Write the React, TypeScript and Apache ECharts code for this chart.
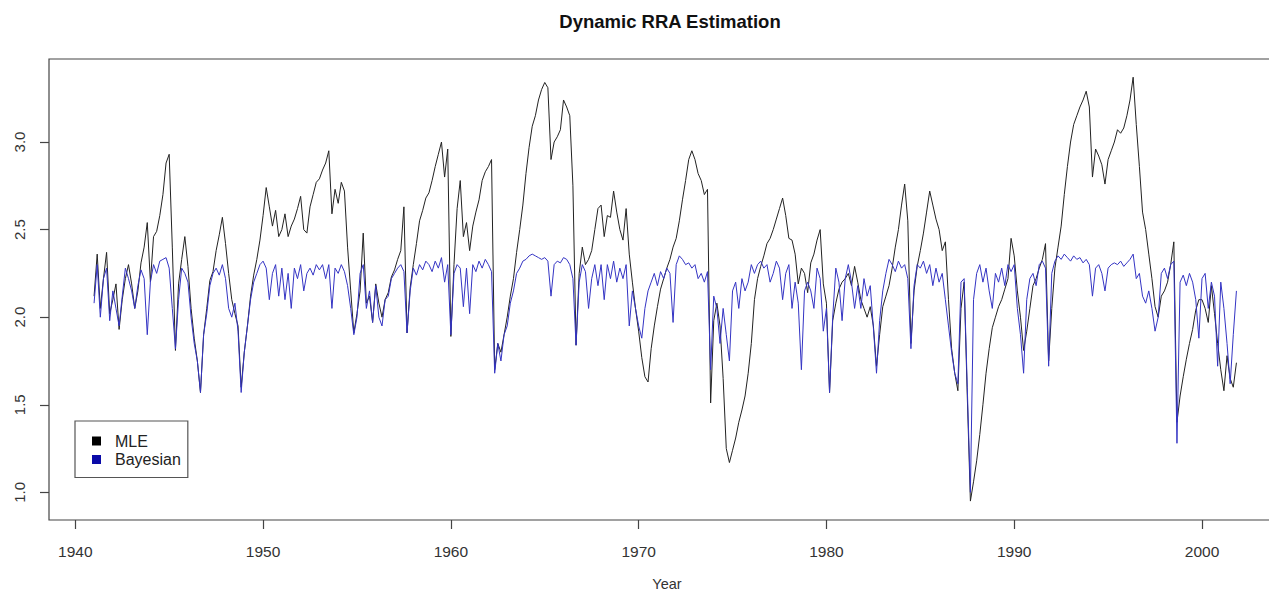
import React, { useEffect, useRef } from "react";
import * as echarts from "echarts";

// Bi-monthly estimates of relative risk aversion, Jan 1941 – Nov 2001 (six values per year)
const startYear = 1941;
const stepsPerYear = 6;

const mleValues: number[] = [
  2.12, 2.36, 2.05, 2.22, 2.37, 2.02, // 1941
  2.10, 2.19, 1.93, 2.10, 2.22, 2.30, // 1942
  2.19, 2.05, 2.15, 2.31, 2.40, 2.54, // 1943
  2.20, 2.46, 2.49, 2.58, 2.70, 2.88, // 1944
  2.93, 2.40, 1.81, 2.19, 2.33, 2.46, // 1945
  2.29, 2.05, 1.88, 1.75, 1.57, 1.90, // 1946
  2.05, 2.21, 2.26, 2.38, 2.47, 2.57, // 1947
  2.42, 2.25, 2.10, 2.02, 1.95, 1.60, // 1948
  1.80, 1.95, 2.12, 2.24, 2.33, 2.44, // 1949
  2.58, 2.74, 2.63, 2.52, 2.61, 2.46, // 1950
  2.50, 2.59, 2.46, 2.52, 2.56, 2.62, // 1951
  2.69, 2.50, 2.48, 2.63, 2.70, 2.77, // 1952
  2.79, 2.84, 2.88, 2.95, 2.59, 2.73, // 1953
  2.65, 2.77, 2.72, 2.40, 2.15, 1.91, // 1954
  2.02, 2.15, 2.48, 2.08, 2.12, 1.97, // 1955
  2.19, 2.08, 2.00, 2.10, 2.14, 2.23, // 1956
  2.27, 2.33, 2.38, 2.63, 1.91, 2.17, // 1957
  2.30, 2.42, 2.55, 2.61, 2.68, 2.71, // 1958
  2.78, 2.86, 2.93, 3.00, 2.80, 2.96, // 1959
  1.89, 2.30, 2.62, 2.78, 2.46, 2.54, // 1960
  2.38, 2.52, 2.60, 2.67, 2.78, 2.83, // 1961
  2.86, 2.90, 1.70, 1.85, 1.80, 1.90, // 1962
  2.00, 2.12, 2.22, 2.37, 2.50, 2.64, // 1963
  2.82, 2.97, 3.09, 3.15, 3.24, 3.30, // 1964
  3.34, 3.31, 2.90, 3.00, 3.03, 3.07, // 1965
  3.24, 3.20, 3.15, 2.75, 1.84, 2.25, // 1966
  2.40, 2.30, 2.33, 2.38, 2.50, 2.62, // 1967
  2.64, 2.46, 2.58, 2.57, 2.72, 2.60, // 1968
  2.50, 2.44, 2.62, 2.36, 2.20, 2.05, // 1969
  1.92, 1.77, 1.66, 1.63, 1.82, 1.95, // 1970
  2.06, 2.16, 2.22, 2.28, 2.33, 2.40, // 1971
  2.45, 2.55, 2.67, 2.78, 2.90, 2.95, // 1972
  2.90, 2.82, 2.78, 2.70, 2.73, 1.51, // 1973
  1.98, 2.08, 1.95, 1.65, 1.25, 1.17, // 1974
  1.24, 1.31, 1.40, 1.47, 1.55, 1.68, // 1975
  1.85, 2.10, 2.22, 2.29, 2.35, 2.42, // 1976
  2.45, 2.50, 2.56, 2.62, 2.68, 2.58, // 1977
  2.45, 2.44, 2.36, 2.19, 2.28, 2.25, // 1978
  2.14, 2.31, 2.36, 2.44, 2.50, 2.19, // 1979
  2.08, 1.57, 1.98, 2.08, 2.16, 2.20, // 1980
  2.22, 2.25, 2.18, 2.29, 2.20, 2.10, // 1981
  2.05, 2.00, 2.06, 1.95, 1.72, 1.90, // 1982
  2.06, 2.12, 2.18, 2.28, 2.40, 2.50, // 1983
  2.64, 2.76, 2.55, 1.85, 2.15, 2.29, // 1984
  2.38, 2.48, 2.60, 2.72, 2.64, 2.56, // 1985
  2.50, 2.38, 2.43, 2.10, 1.82, 1.68, // 1986
  1.58, 2.05, 2.20, 1.55, 0.95, 1.06, // 1987
  1.18, 1.33, 1.50, 1.68, 1.82, 1.94, // 1988
  2.00, 2.06, 2.10, 2.16, 2.22, 2.45, // 1989
  2.35, 2.15, 2.00, 1.81, 1.92, 2.05, // 1990
  2.18, 2.22, 2.28, 2.33, 2.42, 1.75, // 1991
  2.05, 2.28, 2.40, 2.52, 2.70, 2.86, // 1992
  3.00, 3.10, 3.15, 3.20, 3.24, 3.29, // 1993
  3.20, 2.80, 2.96, 2.92, 2.87, 2.76, // 1994
  2.90, 2.95, 3.00, 3.07, 3.05, 3.08, // 1995
  3.15, 3.24, 3.37, 3.10, 2.86, 2.60, // 1996
  2.50, 2.36, 2.22, 2.06, 2.00, 2.12, // 1997
  2.15, 2.20, 2.30, 2.43, 1.40, 1.55, // 1998
  1.66, 1.76, 1.85, 1.93, 2.04, 2.10, // 1999
  2.10, 2.05, 1.97, 2.18, 2.02, 1.85, // 2000
  1.70, 1.58, 1.78, 1.65, 1.60, 1.74, // 2001
];

const bayesValues: number[] = [
  2.08, 2.30, 2.00, 2.22, 2.28, 1.98, // 1941
  2.15, 2.05, 1.95, 2.12, 2.28, 2.22, // 1942
  2.15, 2.05, 2.18, 2.27, 2.22, 1.90, // 1943
  2.20, 2.30, 2.25, 2.32, 2.33, 2.34, // 1944
  2.28, 2.05, 1.82, 2.10, 2.28, 2.25, // 1945
  2.20, 2.00, 1.85, 1.75, 1.57, 1.90, // 1946
  2.02, 2.18, 2.25, 2.28, 2.24, 2.30, // 1947
  2.22, 2.05, 2.00, 2.08, 1.92, 1.57, // 1948
  1.80, 1.95, 2.10, 2.20, 2.25, 2.30, // 1949
  2.32, 2.28, 2.10, 2.25, 2.30, 2.12, // 1950
  2.28, 2.10, 2.25, 2.05, 2.28, 2.22, // 1951
  2.30, 2.15, 2.25, 2.28, 2.24, 2.30, // 1952
  2.27, 2.30, 2.22, 2.30, 2.05, 2.28, // 1953
  2.25, 2.30, 2.26, 2.18, 2.05, 1.90, // 1954
  2.00, 2.25, 2.30, 2.05, 2.15, 1.97, // 1955
  2.18, 2.00, 1.95, 2.10, 2.12, 2.22, // 1956
  2.25, 2.28, 2.30, 2.26, 1.91, 2.15, // 1957
  2.28, 2.24, 2.30, 2.27, 2.32, 2.30, // 1958
  2.26, 2.32, 2.28, 2.34, 2.20, 2.30, // 1959
  1.90, 2.25, 2.30, 2.28, 2.06, 2.28, // 1960
  2.02, 2.30, 2.26, 2.32, 2.28, 2.33, // 1961
  2.30, 2.26, 1.68, 1.85, 1.75, 1.90, // 1962
  1.95, 2.08, 2.15, 2.25, 2.28, 2.32, // 1963
  2.33, 2.35, 2.36, 2.35, 2.34, 2.33, // 1964
  2.34, 2.32, 2.12, 2.30, 2.32, 2.31, // 1965
  2.34, 2.33, 2.30, 2.22, 1.84, 2.20, // 1966
  2.30, 2.26, 2.05, 2.22, 2.30, 2.18, // 1967
  2.30, 2.10, 2.30, 2.22, 2.32, 2.20, // 1968
  2.28, 2.22, 2.30, 1.95, 2.15, 2.05, // 1969
  1.95, 1.88, 2.05, 2.15, 2.20, 2.25, // 1970
  2.18, 2.26, 2.22, 2.28, 2.25, 1.97, // 1971
  2.30, 2.35, 2.33, 2.30, 2.31, 2.28, // 1972
  2.30, 2.22, 2.25, 2.20, 2.26, 1.70, // 1973
  2.12, 2.05, 1.85, 2.05, 1.90, 1.75, // 1974
  2.15, 2.20, 2.05, 2.22, 2.15, 2.20, // 1975
  2.30, 2.25, 2.30, 2.32, 2.28, 2.30, // 1976
  2.20, 2.25, 2.32, 2.28, 2.10, 2.25, // 1977
  2.30, 2.05, 2.20, 2.08, 1.70, 2.15, // 1978
  2.20, 2.15, 2.05, 2.28, 2.22, 1.92, // 1979
  2.05, 1.57, 2.00, 2.28, 2.20, 1.98, // 1980
  2.22, 2.30, 2.20, 2.05, 2.18, 2.05, // 1981
  2.22, 2.12, 2.18, 1.94, 1.68, 1.98, // 1982
  2.15, 2.25, 2.33, 2.30, 2.26, 2.32, // 1983
  2.28, 2.30, 2.22, 1.82, 2.18, 2.30, // 1984
  2.28, 2.32, 2.25, 2.30, 2.18, 2.28, // 1985
  2.20, 2.25, 2.10, 1.95, 1.80, 1.68, // 1986
  1.62, 2.20, 2.22, 1.60, 1.00, 2.10, // 1987
  2.25, 2.30, 2.20, 2.28, 2.15, 2.05, // 1988
  2.25, 2.20, 2.28, 2.18, 2.30, 2.26, // 1989
  2.30, 2.05, 1.90, 1.68, 2.10, 2.22, // 1990
  2.25, 2.18, 2.30, 2.32, 2.28, 1.72, // 1991
  2.25, 2.32, 2.35, 2.33, 2.36, 2.34, // 1992
  2.32, 2.35, 2.33, 2.34, 2.31, 2.33, // 1993
  2.30, 2.12, 2.28, 2.30, 2.25, 2.15, // 1994
  2.28, 2.30, 2.31, 2.30, 2.32, 2.29, // 1995
  2.31, 2.33, 2.36, 2.22, 2.25, 2.12, // 1996
  2.08, 2.15, 2.05, 1.92, 2.00, 2.25, // 1997
  2.28, 2.22, 2.30, 2.32, 1.28, 2.20, // 1998
  2.24, 2.18, 2.25, 2.20, 2.10, 1.88, // 1999
  2.22, 2.25, 2.05, 2.20, 2.12, 1.72, // 2000
  2.20, 2.05, 1.85, 1.62, 1.90, 2.15, // 2001
];

const yearTicks = [1940, 1950, 1960, 1970, 1980, 1990, 2000];
const rraTicks = [1.0, 1.5, 2.0, 2.5, 3.0];

const FONT = "'Liberation Sans', Arial, Helvetica, sans-serif";

function toPairs(values: number[]): [number, number][] {
  return values.map((v, i) => [startYear + i / stepsPerYear, v]);
}

export default function App() {
  const ref = useRef<HTMLDivElement>(null);

  useEffect(() => {
    if (!ref.current) return;
    const chart = echarts.init(ref.current, undefined, { renderer: "svg" });
    chart.setOption({
      animation: false,
      backgroundColor: "#ffffff",
      title: {
        text: "Dynamic RRA Estimation",
        left: 665,
        top: 7,
        textAlign: "center",
        textStyle: { fontFamily: FONT, fontSize: 18.5, fontWeight: "bold", color: "#111" },
      },
      grid: {
        left: 49,
        top: 59,
        width: 1236,
        height: 461,
        outerBoundsMode: "none",
        containLabel: false,
        show: true,
        borderColor: "#444",
        borderWidth: 1.2,
        backgroundColor: "transparent",
      },
      xAxis: {
        type: "value",
        min: 1938.6,
        max: 2004.42,
        axisLine: { show: false },
        splitLine: { show: false },
        axisTick: { show: true, length: 9, customValues: yearTicks, lineStyle: { color: "#444", width: 1.2 } },
        axisLabel: {
          customValues: yearTicks,
          margin: 23,
          fontSize: 15.5,
          color: "#333",
          fontFamily: FONT,
          formatter: (v: number) => String(Math.round(v)),
        },
        name: "Year",
        nameLocation: "middle",
        nameGap: 56,
        nameTextStyle: { fontSize: 14.5, color: "#333", fontFamily: FONT },
      },
      yAxis: {
        type: "value",
        min: 0.842,
        max: 3.474,
        axisLine: { show: false },
        splitLine: { show: false },
        axisTick: { show: true, length: 9, customValues: rraTicks, lineStyle: { color: "#444", width: 1.2 } },
        axisLabel: {
          customValues: rraTicks,
          rotate: 90,
          margin: 22,
          fontSize: 15,
          color: "#333",
          fontFamily: FONT,
          formatter: (v: number) => v.toFixed(1),
        },
      },
      legend: {
        orient: "vertical",
        left: 75,
        top: 421,
        padding: [12, 7, 10, 17],
        itemGap: 2.5,
        itemWidth: 9,
        itemHeight: 9,
        icon: "rect",
        borderColor: "#555",
        borderWidth: 1.2,
        backgroundColor: "#ffffff",
        textStyle: { fontSize: 16, lineHeight: 16, color: "#222", fontFamily: FONT, padding: [0, 0, 0, 9] },
        data: [
          { name: "MLE", itemStyle: { color: "#000000" } },
          { name: "Bayesian", itemStyle: { color: "#0a0aa8" } },
        ],
      },
      series: [
        {
          name: "MLE",
          type: "line",
          data: toPairs(mleValues),
          showSymbol: false,
          symbol: "none",
          itemStyle: { color: "#000000" },
          lineStyle: { color: "#222222", width: 1 },
          z: 2,
        },
        {
          name: "Bayesian",
          type: "line",
          data: toPairs(bayesValues),
          showSymbol: false,
          symbol: "none",
          itemStyle: { color: "#0a0aa8" },
          lineStyle: { color: "#3434c4", width: 1 },
          z: 3,
        },
      ],
    });
    return () => chart.dispose();
  }, []);

  return (
    <div
      ref={ref}
      style={{ position: "absolute", left: 0, top: 0, width: 1269, height: 592, background: "#fff" }}
    />
  );
}
